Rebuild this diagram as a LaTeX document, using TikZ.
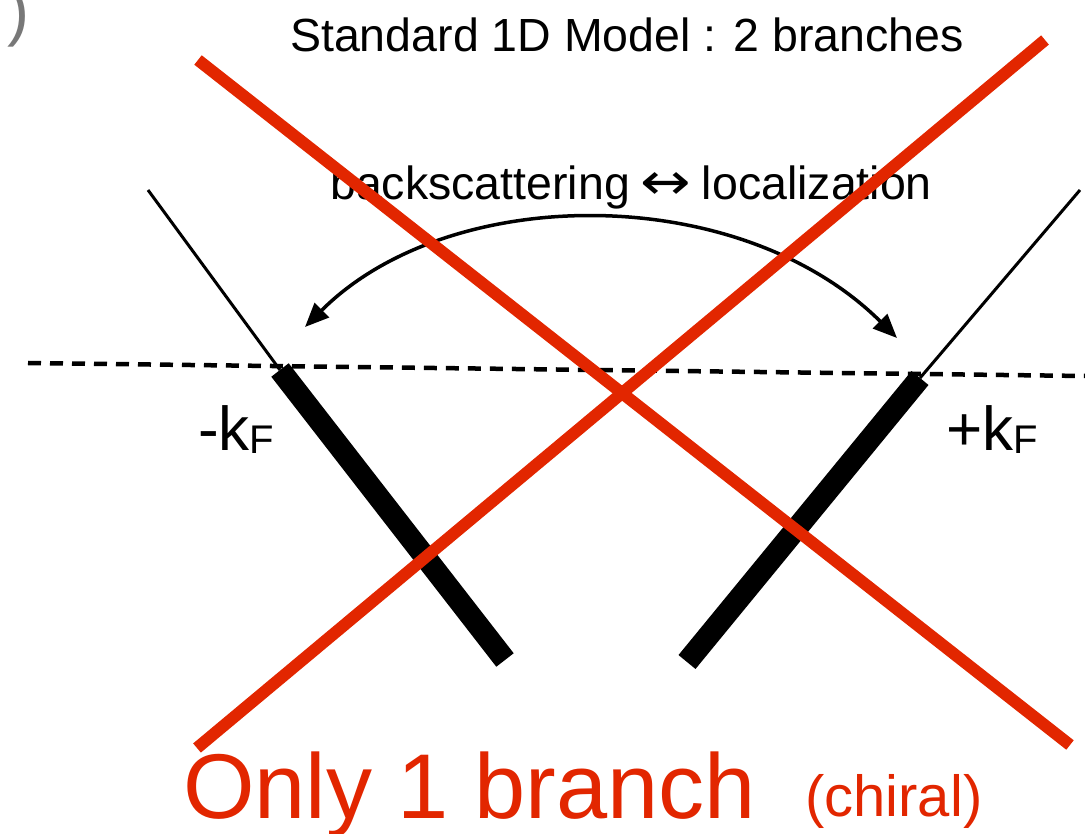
\documentclass[tikz,border=0pt]{standalone}
\usepackage{fontspec}
\usepackage{graphicx}
\setmainfont{Liberation Sans}
\newfontfamily\dvs{DejaVu Sans}
\usetikzlibrary{arrows.meta}
\definecolor{xred}{RGB}{226,38,0}
\definecolor{pgray}{RGB}{120,120,120}
\newcommand{\kfsub}{\raisebox{-3pt}{\fontsize{40}{44}\selectfont F}}
\newcommand{\lrarr}{\makebox[46pt]{\dvs\scalebox{1.3}[1.1]{↔}}}
\tikzset{
  lbl/.style={inner sep=0pt, anchor=base west},
  thinbranch/.style={line width=3pt, black},
  thickbranch/.style={line width=22pt, black},
  cross/.style={line width=12pt, xred},
  fermi/.style={line width=4.5pt, dash pattern=on 13pt off 9pt, black},
  scatter/.style={line width=3.5pt, black, {Triangle[length=24pt,width=20pt]}-{Triangle[length=24pt,width=20pt]}}
}
\begin{document}
\begin{tikzpicture}[x=1pt,y=-1pt]
\useasboundingbox (0,0) rectangle (1085,834);
\begin{scope}
\clip (0,0) rectangle (1085,834);
\node[lbl, text=pgray, font=\fontsize{66}{66}\selectfont] (paren) at (7,34) {)};
\end{scope}
% texts
\node[lbl, font=\fontsize{46.5}{50}\selectfont] (title) at (290,52) {Standard 1D Model : 2 branches};
\node[lbl, font=\fontsize{46.5}{50}\selectfont] (bs) at (330,200) {backscattering \lrarr{} localization};
\node[lbl, font=\fontsize{62}{66}\selectfont] (kl) at (198,450) {-k\kfsub};
\node[lbl, font=\fontsize{62}{66}\selectfont] (kr) at (946,450) {+k\kfsub};
% branch coordinates
\coordinate (lt) at (148,190);
\coordinate (lf) at (280,370);
\coordinate (lb) at (505,660);
\coordinate (rt) at (1080,190);
\coordinate (rf) at (920,378);
\coordinate (rb) at (687,662);
\coordinate (dl) at (28,363);
\coordinate (dr) at (1085,376);
\coordinate (al) at (305,327);
\coordinate (ar) at (897,338);
% fermi level
\draw[fermi] (dl) -- (dr);
% branches
\draw[thinbranch] (lt) -- (lf);
\draw[thickbranch] (lf) -- (lb);
\draw[thinbranch] (rt) -- (rf);
\draw[thickbranch] (rf) -- (rb);
% backscattering arrow
\draw[scatter] (al) .. controls (450,182) and (740,182) .. (ar);
% red cross
\coordinate (c1a) at (198,60);
\coordinate (c1b) at (1070,745);
\coordinate (c2a) at (1045,40);
\coordinate (c2b) at (197,748);
\draw[cross] (c1a) -- (c1b);
\draw[cross] (c2a) -- (c2b);
% bottom text
\node[lbl, text=xred, font=\fontsize{92}{96}\selectfont] (only) at (183,818) {Only 1 branch};
\node[lbl, text=xred, font=\fontsize{58}{62}\selectfont] (chiral) at (805,816) {(chiral)};
\end{tikzpicture}
\end{document}
